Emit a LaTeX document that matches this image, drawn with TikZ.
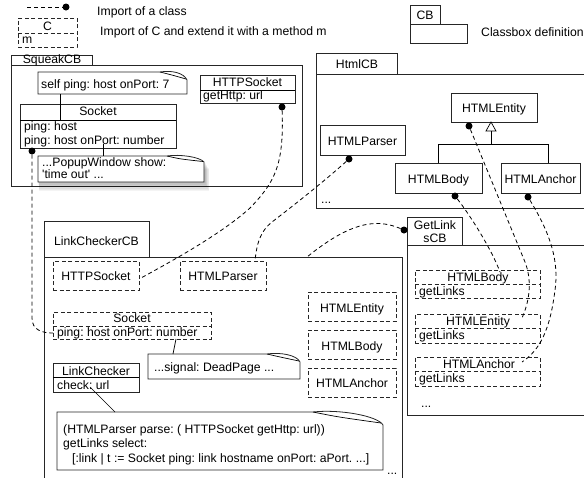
\documentclass[tikz,border=0pt]{standalone}
\usepackage{fontspec}
\setmainfont{Liberation Sans}
\usetikzlibrary{fit}
\newcommand\dfont{\fontsize{12.2}{14}\selectfont\frenchspacing}
\begin{document}
\begin{tikzpicture}[x=1pt,y=-1pt,
  frame/.style={draw=black!85, line width=0.8pt, inner sep=0pt},
  cls/.style={draw=black!85, line width=0.8pt, inner sep=0pt, fill=white},
  imp/.style={draw=black!85, line width=0.8pt, dash pattern=on 4pt off 2.5pt, inner sep=0pt},
  impline/.style={draw=black!85, line width=0.8pt, dash pattern=on 4pt off 2.5pt},
  conn/.style={draw=black, line width=0.8pt, dash pattern=on 4pt off 3pt},
  lnk/.style={draw=black, line width=0.7pt},
  notest/.style={draw=black!85, line width=0.8pt, fill=white},
  dot/.style={circle, fill=black, inner sep=0pt, minimum size=7pt},
  lbl/.style={anchor=base, inner sep=0pt, font=\dfont},
  lbll/.style={anchor=base west, inner sep=0pt, font=\dfont},
]
\useasboundingbox (0,0) rectangle (584,477);
\clip (0,0) rectangle (584,477);

% ---------------- legend ----------------
\node[dot] (ldot) at (66,7) {};
\coordinate (lstart) at (27,7);
\draw[conn] (lstart) -- (ldot);
\node[lbll] (ltxt1) at (97,15) {Import of a class};
\node[imp, fit={(18,18)(77,47)}] (legC) {};
\draw[impline] (18,33) -- (77,33);
\node[lbl] (legCt) at (47.5,30) {C};
\node[lbll] (legm) at (22,43.5) {m};
\node[lbll] (ltxt2) at (100,35.5) {Import of C and extend it with a method m};
\node[cls, fit={(410,5)(440,24)}] (legtab) {};
\node[cls, fit={(410,24)(467,43)}] (legbody) {};
\node[lbl] (legCB) at (425,19.5) {CB};
\node[lbll] (ltxt3) at (481,36) {Classbox definition};

% ---------------- SqueakCB ----------------
\node[frame, fit={(11,65)(302,186)}] (sqbody) {};
\node[frame, fill=white, fit={(11,55)(92,65)}] (sqtab) {};
\node[lbl] (sqtabt) at (52,63) {SqueakCB};

% self ping note
\draw[notest] (38,72) -- (160,72) .. controls (172,70) and (184,73) .. (187,80) -- (187,94) -- (38,94) -- cycle;
\draw[lnk] (160,72) .. controls (172,75) .. (186,79);
\coordinate (noteA) at (60,94);
\node[lbll] (noteAt) at (41,88) {self ping: host onPort: 7};

% Socket class
\node[cls, fit={(20,104)(176,148)}] (sqsock) {};
\draw[lnk] (20,120) -- (176,120);
\node[lbl] at (98,115.5) {Socket};
\node[lbll] at (24,130) {ping: host};
\node[lbll] at (24,144) {ping: host onPort: number};
\coordinate (sockhdr) at (60,120);
\draw[lnk] (noteA) -- (sockhdr);

% popup note with shadow
\foreach \i in {1,...,7}
  \fill[black, opacity=0.045] (38+\i*0.2,162+\i) rectangle (205+\i*0.6,182+\i*1.3);
\draw[notest] (38,156) -- (167,156) .. controls (180,154) and (200,157) .. (204,162) -- (204,182) -- (38,182) -- cycle;
\draw[lnk] (167,156) .. controls (180,159) .. (203,161.5);
\node[lbll] at (42,166) {...PopupWindow show:};
\node[lbll] at (42,178.5) {\textquotesingle time out\textquotesingle{} ...};
\coordinate (onport) at (103,144);
\coordinate (popupTop) at (103,156);
\draw[lnk] (onport) -- (popupTop);

% HTTPSocket class
\node[cls, fit={(200,75)(295,103)}] (sqhttp) {};
\draw[lnk] (200,90) -- (295,90);
\node[lbl] at (247.5,86) {HTTPSocket};
\node[lbll] at (203,99.5) {getHttp: url};

% ---------------- HtmlCB ----------------
\node[frame, fit={(316,74)(600,208)}] (htbody) {};
\node[frame, fill=white, fit={(316,53)(397,74)}] (httab) {};
\node[lbl] at (357,68.5) {HtmlCB};
\node[cls, fit={(451,93)(537,122)}] (hent) {};
\node[lbl] at (494,112) {HTMLEntity};
\node[cls, fit={(320,125)(405,155)}] (hpar) {};
\node[lbl] at (362.5,145) {HTMLParser};
\node[cls, fit={(395,163)(482,193)}] (hbody) {};
\node[lbl] at (438.5,183) {HTMLBody};
\node[cls, fit={(501,163)(580,193)}] (hanc) {};
\node[lbl] at (540.5,183) {HTMLAnchor};
\node[lbll] at (321,203) {...};
% inheritance
\draw[lnk] (491,122) -- (486,131) -- (496,131) -- cycle;
\draw[lnk] (491,131) -- (491,144);
\draw[lnk] (438,163) -- (438,144) -- (548,144) -- (548,163);

% ---------------- GetLinksCB ----------------
\node[frame, fit={(407,245)(600,415)}] (glbody) {};
\node[frame, fill=white, fit={(407,217)(462,245)}] (gltab) {};
\node[lbl] at (435,229) {GetLink};
\node[lbl] at (435,242) {sCB};
\node[imp, fit={(415,270)(540,298)}] (glb) {};
\draw[impline] (415,284) -- (540,284);
\node[lbl] at (478,281.5) {HTMLBody};
\node[lbll] at (419,295) {getLinks};
\node[imp, fit={(415,314)(540,343)}] (gle) {};
\draw[impline] (415,328) -- (540,328);
\node[lbl] at (478,325) {HTMLEntity};
\node[lbll] at (419,339.5) {getLinks};
\node[imp, fit={(415,357)(540,386)}] (gla) {};
\draw[impline] (415,371) -- (540,371);
\node[lbl] at (479,368.5) {HTMLAnchor};
\node[lbll] at (419,382.5) {getLinks};
\node[lbll] at (421,407) {...};

% ---------------- LinkCheckerCB ----------------
\node[frame, fit={(44,257)(402,500)}] (lcbody) {};
\node[frame, fill=white, fit={(44,221)(149,257)}] (lctab) {};
\node[lbl] at (96.5,245.5) {LinkCheckerCB};
\node[imp, fit={(53,261)(139,290)}] (lchttp) {};
\node[lbl] at (96,280) {HTTPSocket};
\node[imp, fit={(180,261)(266,290)}] (lcpar) {};
\node[lbl] at (223,280) {HTMLParser};
\node[imp, fit={(53,312)(211,339)}] (lcsock) {};
\draw[impline] (53,326) -- (211,326);
\node[lbl] at (132,322) {Socket};
\node[lbll] at (57,336.5) {ping: host onPort: number};
\node[imp, fit={(308,292)(396,321)}] (lcent) {};
\node[lbl] at (352,312) {HTMLEntity};
\node[imp, fit={(308,330)(396,359)}] (lcbod) {};
\node[lbl] at (352,350) {HTMLBody};
\node[imp, fit={(308,368)(396,397)}] (lcanc) {};
\node[lbl] at (352,387.5) {HTMLAnchor};

% signal note
\draw[notest] (148,354) -- (267,354) .. controls (280,352) and (297,355) .. (300,362) -- (300,379) -- (148,379) -- cycle;
\draw[lnk] (267,354) .. controls (280,357) .. (299,361);
\node[lbll] at (154,371.5) {...signal: DeadPage ...};
\coordinate (numb) at (176,339);
\coordinate (sigTop) at (173,354);
\draw[lnk] (numb) -- (sigTop);

% LinkChecker class
\node[cls, fit={(53,363)(139,392)}] (lchk) {};
\draw[lnk] (53,377) -- (139,377);
\node[lbl] at (96,375) {LinkChecker};
\node[lbll] at (57,389.5) {check: url};

% big note
\draw[notest] (57,412) -- (313,412) .. controls (340,409) and (378,416) .. (383,425) -- (383,470) -- (57,470) -- cycle;
\draw[lnk] (313,412) .. controls (338,417) .. (381,423);
\node[lbll] at (63,433.5) {(HTMLParser parse: ( HTTPSocket getHttp: url))};
\node[lbll] at (63,447.5) {getLinks select:};
\node[lbll] at (72,462) {[:link | t := Socket ping: link hostname onPort: aPort. ...]};
\coordinate (chk) at (90,387);
\coordinate (bigTop) at (115,412);
\draw[lnk] (chk) -- (bigTop);
\node[lbll] at (387,474.5) {...};

% ---------------- import connectors ----------------
\node[dot] (dsqsock) at (32,151) {};
\node[dot] (dsqhttp) at (282,107) {};
\node[dot] (dhpar) at (349,159) {};
\node[dot] (dhent) at (469,126) {};
\node[dot] (dhbody) at (455,196) {};
\node[dot] (dhanc) at (528,197) {};
\node[dot] (dgl) at (404,230) {};

\coordinate (e1) at (53,333);
\coordinate (e2) at (141,278);
\coordinate (e3) at (255,261);
\coordinate (e4) at (307,257);
\coordinate (e5) at (500,272);
\coordinate (e6) at (522,318);
\coordinate (e7) at (522,362);

\draw[conn] (dsqsock) -- (32,318) .. controls (32,330) and (42,333) .. (e1);
\draw[conn] (dsqhttp) .. controls (284,165) and (275,182) .. (250,208) .. controls (220,235) and (170,262) .. (e2);
\draw[conn] (dhpar) .. controls (320,185) and (285,212) .. (272,222) .. controls (262,230) and (257,240) .. (e3);
\draw[conn] (dgl) .. controls (380,220) and (355,218) .. (e4);
\draw[conn] (dhbody) .. controls (470,215) and (492,250) .. (e5);
\draw[conn] (dhent) -- (525,262) .. controls (532,280) and (530,300) .. (e6);
\draw[conn] (dhanc) .. controls (545,225) and (560,255) .. (555,290) .. controls (550,330) and (540,350) .. (e7);
\end{tikzpicture}
\end{document}
